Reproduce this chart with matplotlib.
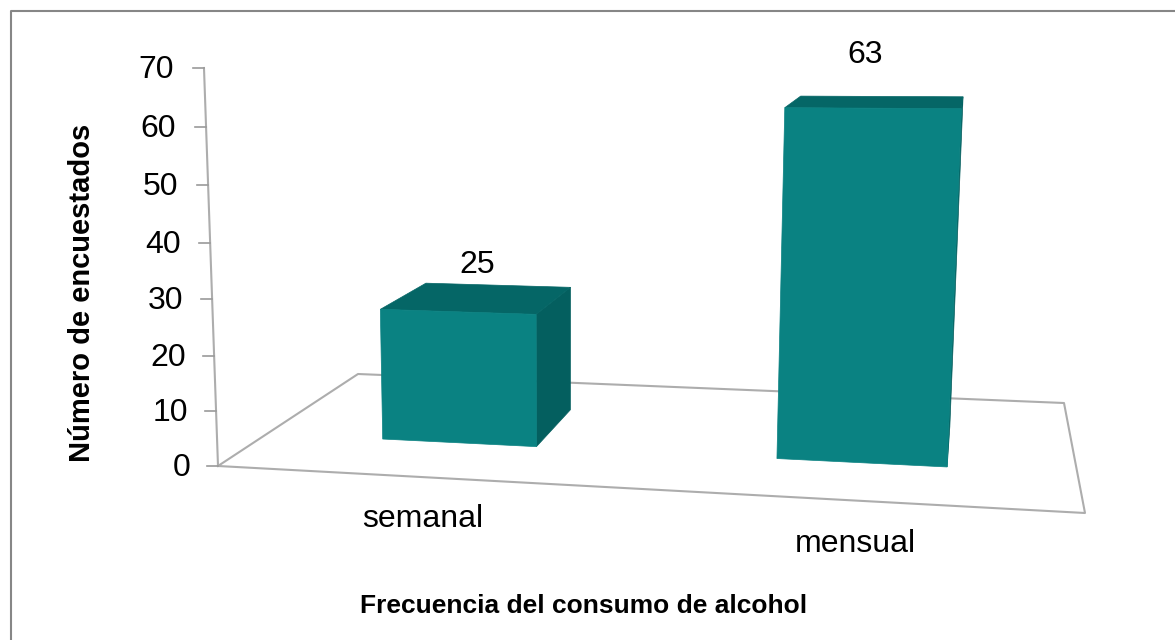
import numpy as np
import matplotlib
matplotlib.use('Agg')
import matplotlib.pyplot as plt

plt.rcParams['font.family'] = ['Liberation Sans', 'DejaVu Sans']

categories = ['semanal', 'mensual']
values = [25, 63]
ticks = [0, 10, 20, 30, 40, 50, 60, 70]
xlabel = 'Frecuencia del consumo de alcohol'
ylabel = 'Número de encuestados'

# perspective of the excel 3d chart, worked out from the floor corners and the axis
# X along the categories 0-1, Z into the page 0-1, V in data units
A, B, C, P = 753.8, 220.53, 218.0, -0.315
D, E, F, Q = -6.52, -7.87, 466.0, -5.724
G, H, I = -0.10433, 0.22494, -0.000563
BAR_SCALE = 0.985  # bars stand a bit behind the axis


def project(X, Z, V):
    w = G * X + H * Z + I * V + 1
    return (A * X + B * Z + C + P * V) / w, (D * X + E * Z + F + Q * V) / w


def face(ax, corners, color):
    pts = [project(*c) for c in corners]
    ax.fill([p[0] for p in pts], [p[1] for p in pts], color=color, lw=0.5, zorder=3)


fig = plt.figure(figsize=(11.75, 6.40), dpi=100)
ax = fig.add_axes([0, 0, 1, 1])
ax.set_xlim(0, 1175)
ax.set_ylim(640, 0)
ax.axis('off')

# outer frame, cropped on right and bottom
ax.plot([11, 11, 1175], [640, 11, 11], color='#868686', lw=1.5, zorder=1)

# floor
floor = [(0, 0), (0, 1), (1, 1), (1, 0), (0, 0)]
pts = [project(x, z, 0) for x, z in floor]
ax.plot([p[0] for p in pts], [p[1] for p in pts], color='#adadad', lw=1.5, zorder=2)

# value axis
p0 = project(0, 0, ticks[0])
p1 = project(0, 0, ticks[-1])
ax.plot([p0[0], p1[0]], [p0[1], p1[1]], color='#adadad', lw=1.5, zorder=2)
for t in ticks:
    px, py = project(0, 0, t)
    ax.plot([px - 11, px], [py, py], color='#9a9a9a', lw=1.2, zorder=2)
    ax.text(px - 27 - t / 20, py + 2, str(t), ha='right', va='center', fontsize=23, color='black')

# bars
width = 0.2
z0, z1 = 0.31, 0.69
mids = [0.255, 0.7525]
label_offset = [(-1, -33), (-12, -47)]
cat_offset = [(1, 42), (3, 44)]
for i, (name, v) in enumerate(zip(categories, values)):
    mid = mids[i]
    x0, x1 = mid - width / 2, mid + width / 2
    h = v * BAR_SCALE
    # right side, top, front
    face(ax, [(x1, z0, 0), (x1, z1, 0), (x1, z1, h), (x1, z0, h)], '#045f5f')
    face(ax, [(x0, z0, h), (x0, z1, h), (x1, z1, h), (x1, z0, h)], '#056666')
    face(ax, [(x0, z0, 0), (x1, z0, 0), (x1, z0, h), (x0, z0, h)], '#0a8282')

    px, py = project(mid, 0.5, h)
    ax.text(px + label_offset[i][0], py + label_offset[i][1], str(v),
            ha='center', va='center', fontsize=23, color='black', zorder=4)
    px, py = project(mid, 0, 0)
    ax.text(px + cat_offset[i][0], py + cat_offset[i][1], name,
            ha='center', va='center', fontsize=23, color='black', zorder=4)

ax.text(584, 606, xlabel, ha='center', va='center', fontsize=19, fontweight='bold')
ax.text(82, 293, ylabel, ha='center', va='center', rotation=90, fontsize=21, fontweight='bold')

plt.savefig('out.png', dpi=100)
